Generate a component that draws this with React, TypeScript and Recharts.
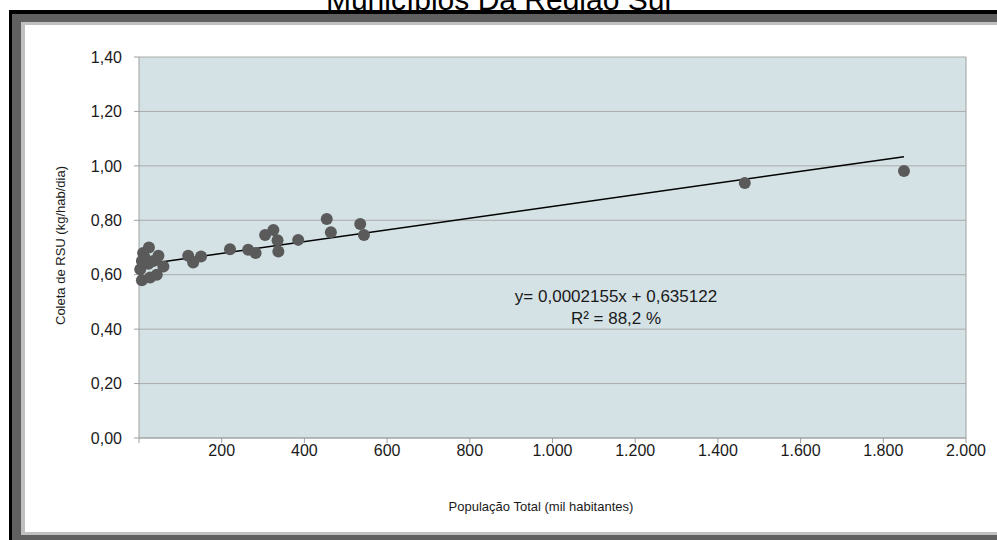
import React from 'react';
import {
  ScatterChart,
  Scatter,
  XAxis,
  YAxis,
  CartesianGrid,
  ReferenceLine
} from 'recharts';

// população total (mil habitantes) x coleta de RSU (kg/hab/dia)
const populacao = [3, 7, 7, 10, 15, 23, 24, 27, 35, 43, 47, 59, 119, 131, 150, 220, 264, 282, 305, 325, 335, 337, 385, 454, 464, 535, 544, 1465, 1850];
const coleta = [0.62, 0.58, 0.65, 0.68, 0.66, 0.64, 0.70, 0.59, 0.65, 0.60, 0.67, 0.63, 0.67, 0.645, 0.667, 0.694, 0.692, 0.68, 0.746, 0.764, 0.727, 0.685, 0.728, 0.805, 0.756, 0.786, 0.746, 0.937, 0.981];

const xTicks = [0, 200, 400, 600, 800, 1000, 1200, 1400, 1600, 1800, 2000];
const yTicks = [0, 0.2, 0.4, 0.6, 0.8, 1.0, 1.2, 1.4];

// reta de regressão
const slope = 0.0002155;
const intercept = 0.635122;
const trendX = [15, 1850];

const font = "'Liberation Sans', Arial, sans-serif";

const data = populacao.map((p, i) => ({ x: p, y: coleta[i] }));
const trend = trendX.map((x) => ({ x, y: intercept + slope * x }));

const fmtX = (v: number) => (v === 0 ? '' : v.toLocaleString('pt-BR'));
const fmtY = (v: number) => v.toFixed(2).replace('.', ',');

const Dot = (props: any) => <circle cx={props.cx} cy={props.cy} r={6} fill="#5a5a5a" />;

const App = () => {
  return (
    <div style={{ position: 'fixed', left: 0, top: 0, width: 997, height: 540, overflow: 'hidden', background: '#fff', fontFamily: font }}>
      <div style={{ position: 'absolute', left: 0, width: 997, top: -15, fontSize: 30, lineHeight: '30px', textAlign: 'center', color: '#000' }}>
        Municípios Da Região Sul
      </div>
      {/* moldura */}
      <div style={{ position: 'absolute', left: 9, top: 10, width: 1100, height: 600, background: '#000' }} />
      <div style={{ position: 'absolute', left: 12, top: 14, width: 1100, height: 600, background: '#606060' }} />
      <div style={{ position: 'absolute', left: 21, top: 22, width: 1100, height: 513, background: '#c0c0c0' }} />
      <div style={{ position: 'absolute', left: 25, top: 25, width: 1100, height: 507, background: '#fff' }} />

      <div style={{ position: 'absolute', left: 0, top: 0 }}>
        <ScatterChart width={997} height={540} margin={{ top: 57, right: 31, bottom: 72, left: 79 }}>
          <CartesianGrid vertical={false} stroke="#aaaaaa" fill="#d4e2e6" fillOpacity={1} />
          <XAxis
            type="number"
            dataKey="x"
            domain={[0, 2000]}
            ticks={xTicks}
            tickFormatter={fmtX}
            stroke="#a0a0a0"
            tickSize={5}
            tickMargin={2}
            height={30}
            tick={{ fill: '#1a1a1a', fontSize: 16, fontFamily: font }}
          />
          <YAxis
            type="number"
            dataKey="y"
            domain={[0, 1.4]}
            ticks={yTicks}
            tickFormatter={fmtY}
            stroke="#a0a0a0"
            tickSize={5}
            tickMargin={12}
            width={60}
            tick={{ fill: '#1a1a1a', fontSize: 16, fontFamily: font }}
          />
          <ReferenceLine x={2000} stroke="#a0a0a0" />
          <Scatter data={data} shape={Dot} isAnimationActive={false} />
          <ReferenceLine
            segment={[trend[0], trend[1]]}
            stroke="#000"
            strokeWidth={1.5}
          />
        </ScatterChart>
      </div>

      <div style={{ position: 'absolute', left: 341, top: 499, width: 400, textAlign: 'center', fontSize: 13, color: '#1a1a1a' }}>
        População Total (mil habitantes)
      </div>
      <div style={{ position: 'absolute', left: 60, top: 247, width: 0, height: 0 }}>
        <div style={{ position: 'absolute', left: -150, top: -9, width: 300, textAlign: 'center', fontSize: 13, color: '#1a1a1a', transform: 'rotate(-90deg)' }}>
          Coleta de RSU (kg/hab/dia)
        </div>
      </div>
      <div style={{ position: 'absolute', left: 466, top: 286, width: 300, textAlign: 'center', fontSize: 17, lineHeight: '22px', color: '#1a1a1a' }}>
        y= 0,0002155x + 0,635122
        <br />
        R² = 88,2 %
      </div>
    </div>
  );
};

export default App;
